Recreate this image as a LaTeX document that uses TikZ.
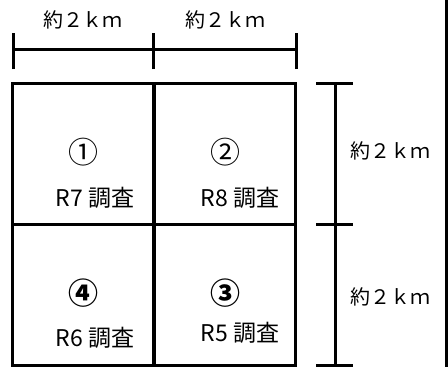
\documentclass[tikz,border=0pt]{standalone}
\usepackage{fontspec}
\setmainfont{Noto Sans CJK JP}
\begin{document}
\begin{tikzpicture}[x=1pt,y=-1pt,
  cell/.style={draw,line width=3pt,minimum width=141pt,minimum height=141pt,inner sep=0pt,anchor=center},
  bar/.style={line width=3pt},
  lab/.style={font=\fontsize{20}{20}\selectfont,inner sep=0pt},
  num/.style={font=\fontsize{30}{30}\selectfont,inner sep=0pt},
  bnum/.style={font=\fontsize{30}{30}\selectfont\bfseries,inner sep=0pt},
  nm/.style={font=\fontsize{23}{23}\selectfont,inner sep=0pt}]
\useasboundingbox (0,0) rectangle (448,367);
% grid cells
\node[cell] (c1) at (83,153.5) {};
\node[cell] (c2) at (224.5,153.5) {};
\node[cell] (c4) at (83,294.5) {};
\node[cell] (c3) at (224.5,294.5) {};
% cell texts
\node[num] (n1) at (83,152) {①};
\node[nm]  (r7) at (95,198) {R7 調査};
\node[num] (n2) at (225,152) {②};
\node[nm]  (r8) at (240,198) {R8 調査};
\node[bnum] (n4) at (83,293) {④};
\node[nm]  (r6) at (95,338) {R6 調査};
\node[bnum] (n3) at (225,293) {③};
\node[nm]  (r5) at (240,333) {R5 調査};
% top scale
\coordinate (t1) at (13,49);
\coordinate (t2) at (153,49);
\coordinate (t3) at (296,49);
\draw[bar] (t1) -- (t3);
\foreach \p in {t1,t2,t3} \draw[bar] ([yshift=-20pt]\p) -- ([yshift=16pt]\p);
\node[lab] (l1) at (83,20) {約２ｋｍ};
\node[lab] (l2) at (225,20) {約２ｋｍ};
% right scale
\coordinate (s1) at (335,83);
\coordinate (s2) at (335,224);
\coordinate (s3) at (335,365);
\draw[bar] (s1) -- (s3);
\foreach \p in {s1,s2,s3} \draw[bar] ([xshift=-19pt]\p) -- ([xshift=18pt]\p);
\node[lab] (l3) at (390,151) {約２ｋｍ};
\node[lab] (l4) at (390,297) {約２ｋｍ};
% right edge line
\coordinate (e1) at (446,0);
\coordinate (e2) at (446,367);
\draw[bar] (e1) -- (e2);
\end{tikzpicture}
\end{document}
